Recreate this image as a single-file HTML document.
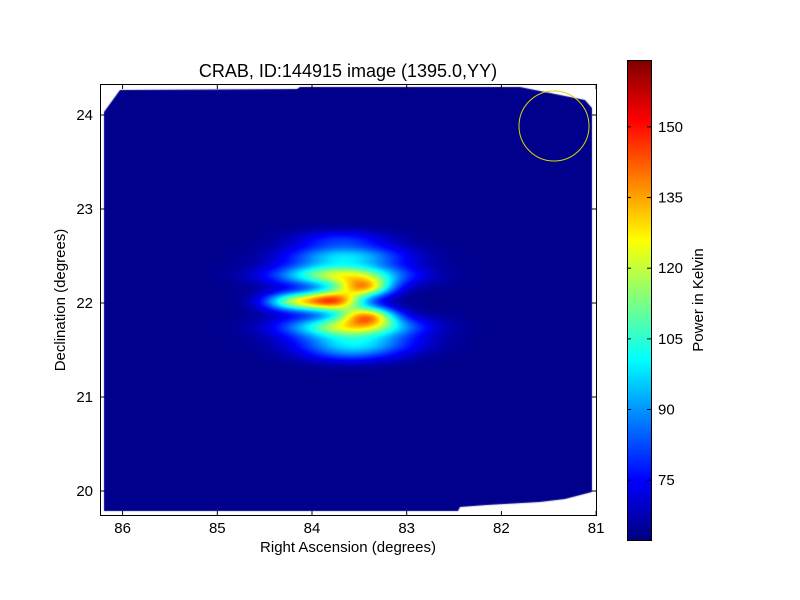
<!DOCTYPE html>
<html><head><meta charset="utf-8"><style>
body{margin:0;background:#fff;}
svg text{font-family:"Liberation Sans",sans-serif;fill:#000;}
</style></head><body>
<div style="position:relative;width:800px;height:600px;">
<canvas id="hm" width="496" height="431" style="position:absolute;left:100px;top:84px;"></canvas>
<canvas id="cb" width="24" height="480" style="position:absolute;left:627px;top:60px;"></canvas>
<svg id="ov" width="800" height="600" style="position:absolute;left:0;top:0;"></svg>
</div>
<script>
// data
const xTicks=[86,85,84,83,82,81];
const yTicks=[24,23,22,21,20];
const cbTicks=[75,90,105,120,135,150];
const background=63.5;
const vmin=62.3, vmax=164.2;
const lobeRA=[83.78,83.45,83.42,84.2,83.7,83.6,83.65,83.55,83.7,83.6];
const lobeDec=[22.03,22.17,21.87,22.02,22.3,21.75,22.5,21.57,22.68,21.45];
const lobeAmp=[72,55,55,45,56,56,32,30,14,12];
const lobeSigRA=[0.22,0.2,0.2,0.22,0.45,0.45,0.42,0.42,0.35,0.35];
const lobeSigDec=[0.08,0.07,0.07,0.07,0.08,0.08,0.08,0.08,0.07,0.07];

const PL=100,PT=84,PW=496,PH=431;
const xs=ra=>312+(84-ra)*94.7;
const ys=d=>303-(d-22)*94;
const cy=v=>540-(v-vmin)/(vmax-vmin)*480;
function jet(t){t=Math.max(0,Math.min(1,t));
 const f=x=>Math.max(0,Math.min(1,x));
 return [f(1.5-Math.abs(4*t-3)),f(1.5-Math.abs(4*t-2)),f(1.5-Math.abs(4*t-1))].map(v=>Math.round(v*255));}
// heatmap
const hc=document.getElementById('hm').getContext('2d');
const img=hc.createImageData(PW,PH);
for(let py=0;py<PH;py++){for(let px=0;px<PW;px++){
 const X=px+PL,Y=py+PT;
 const ra=84-(X-312)/94.7, dec=22+(303-Y)/94;
 let v=background;
 for(let i=0;i<lobeRA.length;i++){
  const dx=(ra-lobeRA[i])/lobeSigRA[i],dy=(dec-lobeDec[i])/lobeSigDec[i];
  v+=lobeAmp[i]*Math.exp(-0.5*(dx*dx+dy*dy));}
 const c=jet((v-vmin)/(vmax-vmin));const k=(py*PW+px)*4;
 img.data[k]=c[0];img.data[k+1]=c[1];img.data[k+2]=c[2];img.data[k+3]=255;}}
hc.putImageData(img,0,0);
// mask outside coverage with white
hc.fillStyle='#fff';hc.beginPath();
hc.rect(0,0,PW,PH);
const poly=[[104,112],[120,90],[297,89],[300,87],[520,87],[585,100],[592,108],[592,492],[565,499],[540,502],[487,505],[460,507],[458,511],[104,511]];
hc.moveTo(poly[0][0]-PL,poly[0][1]-PT);
for(let i=poly.length-1;i>=0;i--)hc.lineTo(poly[i][0]-PL,poly[i][1]-PT);
hc.closePath();hc.fill('evenodd');
// colorbar
const cc=document.getElementById('cb').getContext('2d');
for(let y=0;y<480;y++){const c=jet(1-y/479);cc.fillStyle=`rgb(${c})`;cc.fillRect(0,y,24,1);}
// overlay
const svg=document.getElementById('ov');const NS='http://www.w3.org/2000/svg';
function mk(tag,attrs,txt){const e=document.createElementNS(NS,tag);for(const k in attrs)e.setAttribute(k,attrs[k]);if(txt!==undefined)e.textContent=txt;svg.appendChild(e);return e;}
let e;
e=mk('rect',{x:100.5,y:84.5,width:496,height:431,fill:'none',stroke:'#000'});


e=mk('circle',{cx:554,cy:126,r:35,fill:'none',stroke:'#d6d600','stroke-width':1});


xTicks.forEach(t=>{const x=xs(t);
 mk('line',{x1:x,x2:x,y1:515,y2:511,stroke:'#000'});mk('line',{x1:x,x2:x,y1:85,y2:89,stroke:'#000'});
 e=mk('text',{x:x,y:533,'text-anchor':'middle','font-size':15},t);
 
 });
yTicks.forEach(t=>{const y=ys(t);
 mk('line',{x1:101,x2:105,y1:y,y2:y,stroke:'#000'});mk('line',{x1:596,x2:592,y1:y,y2:y,stroke:'#000'});
 e=mk('text',{x:93,y:y+5,'text-anchor':'end','font-size':15},t);
 
 });
e=mk('rect',{x:627.5,y:60.5,width:24,height:480,fill:'none',stroke:'#000'});


cbTicks.forEach(t=>{const y=cy(t);
 mk('line',{x1:627,x2:631,y1:y,y2:y,stroke:'#000'});mk('line',{x1:651,x2:647,y1:y,y2:y,stroke:'#000'});
 e=mk('text',{x:658,y:y+5,'font-size':15},t);
 
 });
e=mk('text',{x:348,y:77,'text-anchor':'middle','font-size':18},'CRAB, ID:144915 image (1395.0,YY)');


e=mk('text',{x:348,y:552,'text-anchor':'middle','font-size':15},'Right Ascension (degrees)');


e=mk('text',{x:65,y:300,'text-anchor':'middle','font-size':15,transform:'rotate(-90 65 300)'},'Declination (degrees)');


e=mk('text',{x:703,y:300,'text-anchor':'middle','font-size':15,transform:'rotate(-90 703 300)'},'Power in Kelvin');


</script>
</body></html>
